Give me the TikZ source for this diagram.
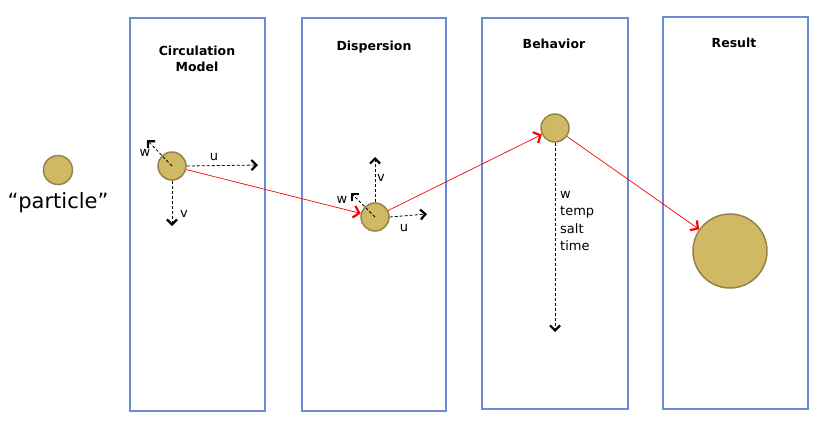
\documentclass[tikz,border=0pt]{standalone}
\usepackage{fontspec}
\setmainfont{DejaVu Sans}
\usetikzlibrary{arrows.meta}
\definecolor{panelblue}{RGB}{108,138,214}
\definecolor{grainfill}{RGB}{207,185,100}
\definecolor{grainedge}{RGB}{150,130,72}

\begin{document}
\begin{tikzpicture}[x=1pt, y=-1pt, every node/.style={font=\fontsize{13}{15}\selectfont, inner sep=0pt},
	panel/.style={draw=panelblue, line width=2pt, minimum height=393pt},
	title/.style={font=\fontsize{12.5}{16}\selectfont\bfseries, align=center},
	grain/.style={circle, draw=grainedge, fill=grainfill, line width=1.5pt, minimum size=28pt},
	comp/.style={densely dashed, line width=0.8pt, -{Straight Barb[length=5pt, width=10pt, line width=2.2pt]}},
	track/.style={red, line width=0.7pt, -{Straight Barb[length=5.5pt, width=12pt, line width=2.2pt]}}]
	\useasboundingbox (0,0) rectangle (816,429);
	\node[panel, minimum width=135pt] (circ) at (197.5,214.5) {};
	\node[panel, minimum width=144pt] (disp) at (374,214.5) {};
	\node[panel, minimum width=146pt, minimum height=391pt] (behav) at (555,213.5) {};
	\node[panel, minimum width=145pt, minimum height=392pt] (res) at (735.5,213) {};
	\node[title] (circt) at (197,59) {Circulation\\Model};
	\node[title] (dispt) at (374,47) {Dispersion};
	\node[title] (behavt) at (554,44) {Behavior};
	\node[title] (rest) at (734,43) {Result};
	\node[grain, minimum size=29pt] (g0) at (58,170) {};
	\node[font=\fontsize{21}{25}\selectfont] (g0t) at (58,203) {“particle”};
	\node[grain] (g1) at (172,166) {};
	\node[grain] (g2) at (375,217) {};
	\node[grain] (g3) at (555,128) {};
	\node[grain, minimum size=74pt] (g4) at (730,251) {};
	\coordinate (g1w) at (147,140);
	\coordinate (g1u) at (258,165);
	\coordinate (g1v) at (172,226);
	\draw[comp] (g1.center) -- (g1w);
	\draw[comp] (g1.east) -- (g1u);
	\draw[comp] (g1.south) -- (g1v);
	\node (g1wt) at (145,153) {w};
	\node (g1ut) at (214,157) {u};
	\node (g1vt) at (184,214) {v};
	\coordinate (g2v) at (375,157);
	\coordinate (g2w) at (351,193);
	\coordinate (g2u) at (427,214);
	\draw[comp] (g2.north) -- (g2v);
	\draw[comp] (g2.center) -- (g2w);
	\draw[comp] (g2.east) -- (g2u);
	\node (g2vt) at (381,178) {v};
	\node (g2wt) at (342,200) {w};
	\node (g2ut) at (404,228) {u};
	\coordinate (g3d) at (555,332);
	\draw[comp] (g3.south) -- (g3d);
	\node[anchor=north west, align=left, font=\fontsize{13}{17.5}\selectfont] (g3t) at (560,191) {w\\temp\\salt\\time};
	\draw[track] (g1) -- (g2);
	\draw[track] (g2) -- (g3);
	\draw[track] (g3) -- (g4);
\end{tikzpicture}
\end{document}
